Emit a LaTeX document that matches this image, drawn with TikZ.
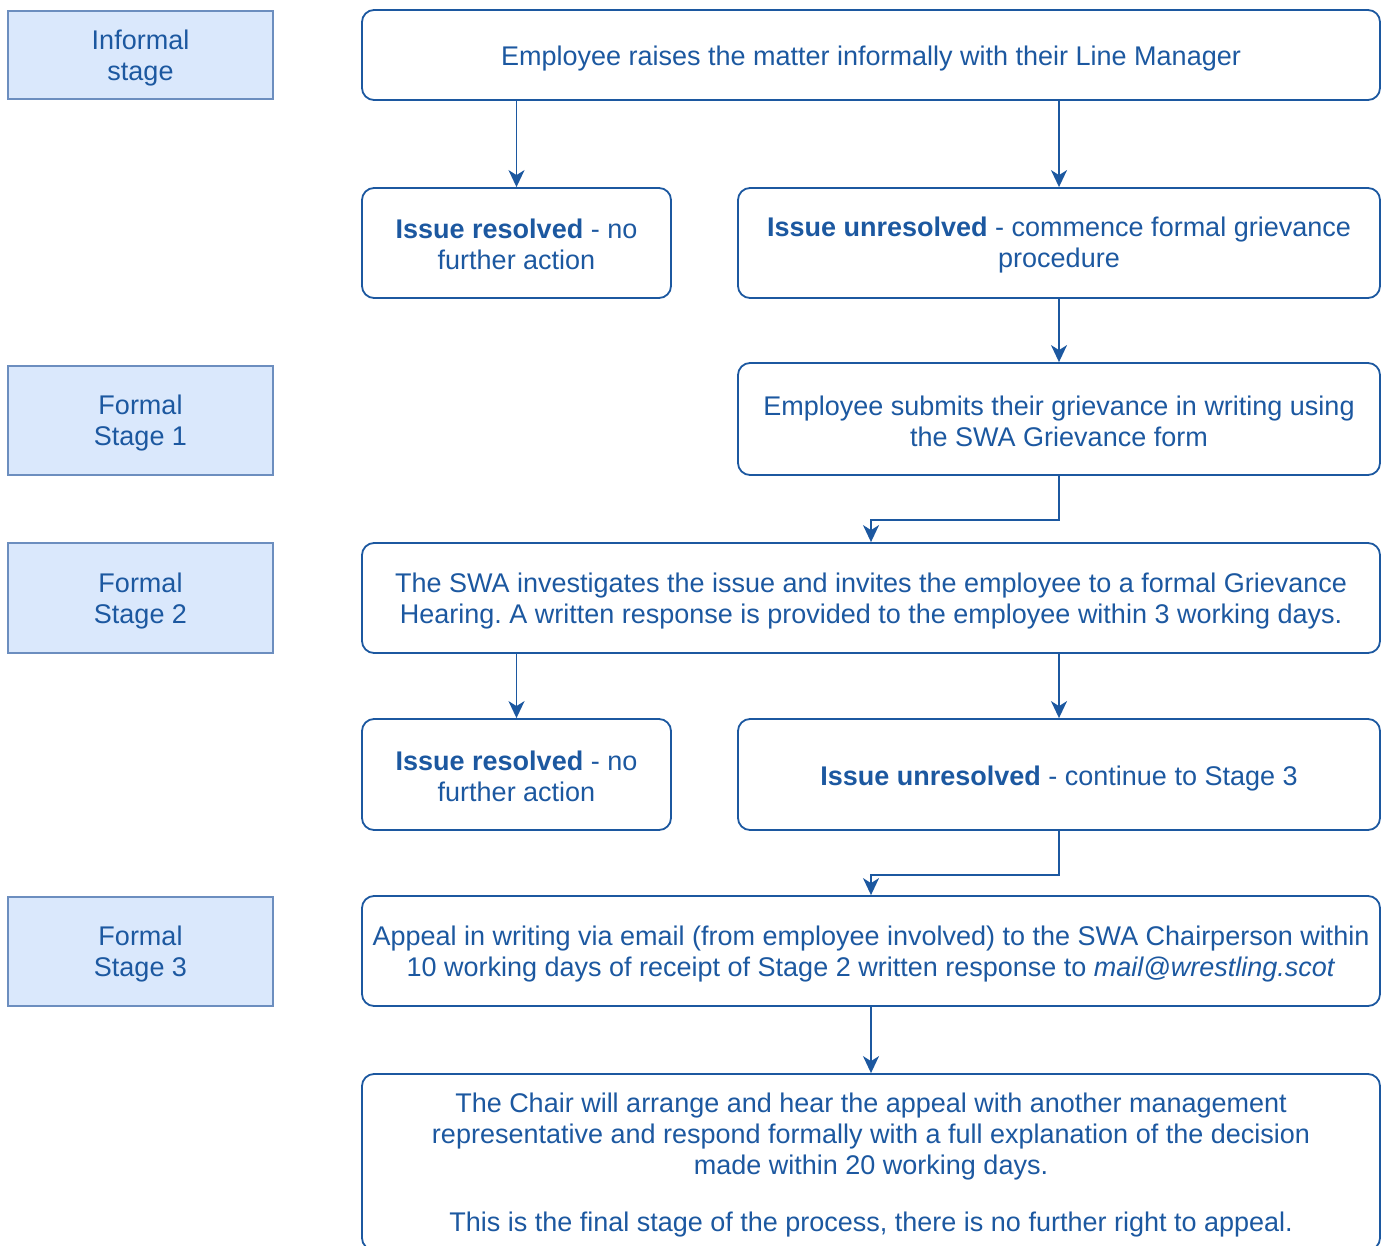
\documentclass[tikz,border=0pt]{standalone}
\usepackage{fontspec}
\setmainfont{Liberation Sans}
\usetikzlibrary{arrows.meta}
\definecolor{ink}{RGB}{28,88,160}
\definecolor{lblfill}{HTML}{DAE8FC}
\definecolor{lbldraw}{HTML}{6C8EBF}
\frenchspacing
\begin{document}
\begin{tikzpicture}[x=1pt,y=-1pt,
  box/.style={draw=ink, line width=1.8pt, rounded corners=12pt, align=center, text=ink,
    font=\fontsize{27}{31}\selectfont, inner sep=0pt},
  lbl/.style={draw=lbldraw, fill=lblfill, line width=1.8pt, align=center, text=ink,
    font=\fontsize{27}{31}\selectfont, inner sep=0pt, minimum width=265pt},
  txt/.style={text=ink, align=center, font=\fontsize{27}{31}\selectfont, inner sep=0pt},
  arr/.style={draw=ink, line width=1.8pt, -{Stealth[length=17pt,width=16pt,inset=5pt]}}]
\useasboundingbox (0,0) rectangle (1386,1246);
\clip (0,0) rectangle (1386,1246);
% stage labels
\node[lbl, minimum height=88pt] (L0) at (140.5,55) {};
\node[txt] (L0t) at (140.5,58) {Informal\\stage};
\node[lbl, minimum height=109pt] (L1) at (140.5,420.5) {};
\node[txt] (L1t) at (140.5,423.5) {Formal\\Stage 1};
\node[lbl, minimum height=110pt] (L2) at (140.5,598) {};
\node[txt] (L2t) at (140.5,601) {Formal\\Stage 2};
\node[lbl, minimum height=109pt] (L3) at (140.5,951.5) {};
\node[txt] (L3t) at (140.5,954.5) {Formal\\Stage 3};
% flow boxes
\node[box, minimum width=1018pt, minimum height=90pt] (A) at (871,55) {};
\node[txt] (At) at (871,58.5)
  {Employee raises the matter informally with their Line Manager};
\node[box, minimum width=309pt, minimum height=110pt] (B) at (516.5,243) {};
\node[txt] (Bt) at (516.5,244.5)
  {\textbf{Issue resolved} - no\\further action};
\node[box, minimum width=642pt, minimum height=110pt] (C) at (1059,243) {};
\node[txt] (Ct) at (1059,245.5)
  {\textbf{Issue unresolved} - commence formal grievance\\procedure};
\node[box, minimum width=642pt, minimum height=112pt] (D) at (1059,419) {};
\node[txt] (Dt) at (1059,421.5)
  {Employee submits their grievance in writing using\\the SWA Grievance form};
\node[box, minimum width=1018pt, minimum height=110pt] (E) at (871,598) {};
\node[txt] (Et) at (871,601)
  {The SWA investigates the issue and invites the employee to a formal Grievance\\Hearing. A written response is provided to the employee within 3 working days.};
\node[box, minimum width=309pt, minimum height=111pt] (F) at (516.5,774.5) {};
\node[txt] (Ft) at (516.5,776)
  {\textbf{Issue resolved} - no\\further action};
\node[box, minimum width=642pt, minimum height=111pt] (G) at (1059,774.5) {};
\node[txt] (Gt) at (1059,778.5)
  {\textbf{Issue unresolved} - continue to Stage 3};
\node[box, minimum width=1018pt, minimum height=110pt] (H) at (871,951) {};
\node[txt] (Ht) at (871,954)
  {Appeal in writing via email (from employee involved) to the SWA Chairperson within\\10 working days of receipt of Stage 2 written response to \textit{mail@wrestling.scot}};
\node[box, minimum width=1018pt, minimum height=176pt] (I) at (871,1162) {};
\node[txt] (It) at (871,1165)
  {The Chair will arrange and hear the appeal with another management\\representative and respond formally with a full explanation of the decision\\made within 20 working days.\\[26pt]This is the final stage of the process, there is no further right to appeal.};
% connectors
\draw[arr] (A.south -| B.north) -- (B.north);
\draw[arr] (A.south -| C.north) -- (C.north);
\draw[arr] (C.south) -- (D.north);
\draw[arr] (D.south) -- ++(0,44) -| (E.north);
\draw[arr] (E.south -| F.north) -- (F.north);
\draw[arr] (E.south -| G.north) -- (G.north);
\draw[arr] (G.south) -- ++(0,44) -| (H.north);
\draw[arr] (H.south) -- (I.north);
\end{tikzpicture}
\end{document}
